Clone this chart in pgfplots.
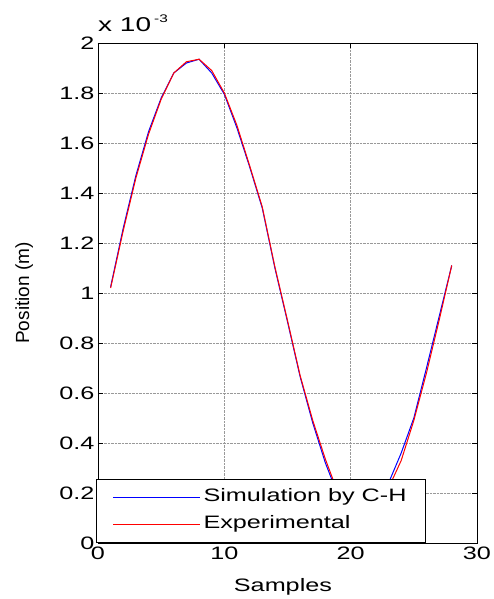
\documentclass[border=0pt]{standalone}
\usepackage{fontspec}
\setmainfont{Liberation Sans}[FakeStretch=1.4]
\newfontfamily\ylabfont{Liberation Sans}
\usepackage{pgfplots}
\pgfplotsset{compat=1.18}
\begin{document}
\begin{tikzpicture}
\useasboundingbox (-98pt,-56pt) rectangle (395pt,543pt);
\begin{axis}[
  at={(0pt,0pt)}, anchor=south west,
  scale only axis, width=379pt, height=500pt,
  clip=false,
  xmin=0, xmax=30, ymin=0, ymax=2,
  xtick={0,10,20,30},
  ytick={0,0.2,0.4,0.6,0.8,1,1.2,1.4,1.6,1.8,2},
  yticklabel style={/pgf/number format/fixed, /pgf/number format/precision=1},
  /pgf/number format/assume math mode=true,
  tick label style={font=\fontsize{18}{21}\selectfont},
  scaled y ticks=false,
  tick align=inside, major tick length=5pt,
  grid=major,
  major grid style={densely dotted, gray!80, line width=0.6pt},
  axis line style={black, line width=0.8pt},
  every tick/.style={black, line width=0.8pt},
  xlabel={Samples},
  xlabel style={font=\fontsize{18}{21}\selectfont, at={(axis description cs:0.488,0)}, anchor=base, yshift=-48.7pt},
  ylabel={Position (m)},
  ylabel style={font=\ylabfont\fontsize{19}{22}\selectfont, at={(axis description cs:-0.195,0.5)}, anchor=center, rotate=0},
  legend style={at={(axis description cs:-0.005,0)}, anchor=south west, draw=black, line width=0.8pt, fill=white,
    font=\fontsize{18}{21}\selectfont, inner xsep=16pt, inner ysep=4.5pt, row sep=0pt,
    nodes={inner sep=3pt, text height=14pt, text depth=7pt}},
  legend cell align=left,
  legend image code/.code={\path (-2pt,0pt) -- (85pt,0pt); \draw[#1, line width=0.9pt] (0pt,0pt) -- (80pt,0pt);},
]
\addplot[color=blue, line width=1pt] coordinates {
(1,1.025) (2,1.26) (3,1.47) (4,1.645) (5,1.78) (6,1.88) (7,1.92) (8,1.935) (9,1.88) (10,1.795)
(11,1.66) (12,1.505) (13,1.34) (14,1.10) (15,0.885) (16,0.665) (17,0.48) (18,0.32) (19,0.19) (20,0.12)
(21,0.10) (22,0.15) (23,0.24) (24,0.36) (25,0.50) (26,0.70) (27,0.905) (28,1.11)
};
\addlegendentry{Simulation by C-H}
\addplot[color=red, line width=1pt] coordinates {
(1,1.02) (2,1.25) (3,1.46) (4,1.635) (5,1.775) (6,1.88) (7,1.925) (8,1.935) (9,1.89) (10,1.80)
(11,1.67) (12,1.51) (13,1.345) (14,1.105) (15,0.89) (16,0.67) (17,0.49) (18,0.335) (19,0.20) (20,0.12)
(21,0.10) (22,0.14) (23,0.22) (24,0.33) (25,0.49) (26,0.68) (27,0.89) (28,1.11)
};
\addlegendentry{Experimental}
\node[anchor=base west, inner sep=0pt] at (rel axis cs:0,1) [yshift=11pt] {\fontsize{20}{23}\selectfont x 10\hspace{3pt}\raisebox{9pt}{\fontsize{11}{12}\selectfont -3}};
\end{axis}
\end{tikzpicture}
\end{document}
